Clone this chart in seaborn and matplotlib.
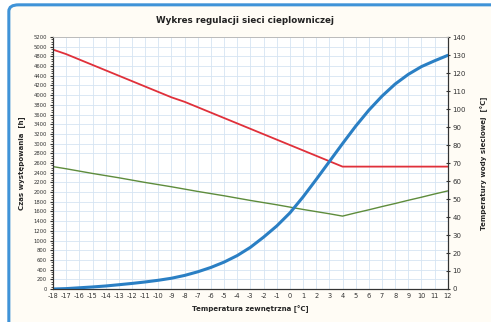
import numpy as np
import pandas as pd
import seaborn as sns
import matplotlib.pyplot as plt
from matplotlib.patches import FancyBboxPatch
from matplotlib.ticker import MultipleLocator

# temperatura zewnętrzna [°C]
temp_zew = list(range(-18, 13))

# czas występowania [h] (lewa oś)
czas_h = [0, 8, 25, 42, 62, 88, 115, 145, 180, 222, 280, 355, 445, 555, 690, 860,
          1070, 1300, 1570, 1900, 2260, 2630, 3000, 3360, 3690, 3980, 4230, 4430,
          4590, 4710, 4822]

# temperatura wody zasilającej [°C] (prawa oś)
t_zasilanie = [133, 130.5, 127.5, 124.5, 121.5, 118.5, 115.5, 112.5, 109.5, 106.5,
               104, 101, 98, 95, 92, 89, 86, 83, 80, 77, 74, 71, 68,
               68, 68, 68, 68, 68, 68, 68, 68]

# temperatura wody powrotnej [°C] (prawa oś)
t_powrot = [68, 66.8, 65.5, 64.2, 63, 61.8, 60.5, 59.2, 58, 56.8, 55.5, 54.2,
            53, 51.8, 50.5, 49.2, 48, 46.8, 45.5, 44.2, 43, 41.8, 40.5,
            42.3, 44, 45.8, 47.5, 49.3, 51, 52.8, 54.5]

df = pd.DataFrame({'t': temp_zew, 'czas': czas_h,
                   'zas': t_zasilanie, 'pow': t_powrot})

sns.set_style('white')
plt.rcParams['font.family'] = ['DejaVu Sans']
plt.rcParams['axes.unicode_minus'] = False

fig = plt.figure(figsize=(4.91, 3.22), dpi=100)
fig.patch.set_facecolor('white')

# ramka w tle
ramka = FancyBboxPatch((0.018, -0.05), 1.05, 1.035,
                       boxstyle='round,pad=0,rounding_size=0.02',
                       transform=fig.transFigure, facecolor='#fffcf5',
                       edgecolor='#3f93d8', linewidth=2.2, zorder=0)
fig.patches.append(ramka)

ax = fig.add_axes([0.108, 0.1025, 0.804, 0.7825])
ax2 = ax.twinx()

# prawa oś pod spodem (biała, z siatką), lewa na wierzchu (przezroczysta)
ax2.set_zorder(1)
ax.set_zorder(2)
ax.patch.set_visible(False)
ax2.patch.set_visible(True)
ax2.patch.set_facecolor('white')

sns.lineplot(data=df, x='t', y='zas', ax=ax2, color='#e0303a', linewidth=1.3)
sns.lineplot(data=df, x='t', y='pow', ax=ax2, color='#5e8c3c', linewidth=1.0)
sns.lineplot(data=df, x='t', y='czas', ax=ax, color='#2a7fc4', linewidth=2.2)

ax.set_xlim(-18, 12)
ax.set_ylim(0, 5200)
ax2.set_ylim(0, 140)

ax.set_xticks(temp_zew)
ax.set_yticks(np.arange(0, 5201, 200))
ax.yaxis.set_minor_locator(MultipleLocator(50))
ax2.set_yticks(np.arange(0, 141, 10))
# siatka pozioma co 200 h, rysowana na osi tła
ax2.yaxis.set_minor_locator(MultipleLocator(140 / 26))

# oś x tła musi być widoczna, żeby rysować pionową siatkę
ax2.xaxis.set_visible(True)
ax2.tick_params(axis='x', labelbottom=False, labeltop=False, length=0)
ax2.set_xlabel('')

ax2.grid(True, axis='x', which='major', color='#d6e4f2', linewidth=0.6)
ax2.grid(True, axis='y', which='minor', color='#d6e4f2', linewidth=0.6)
ax2.set_axisbelow(True)
ax.grid(False)

ax.tick_params(axis='x', labelsize=4.8, length=0, pad=3, colors='#333333')
ax.tick_params(axis='y', which='major', labelsize=3.8, length=2.5, pad=2,
               colors='#333333', direction='out')
ax.tick_params(axis='y', which='minor', length=1.5, color='#333333')
ax2.tick_params(axis='y', which='major', labelsize=5, length=3, pad=2,
                colors='#333333', direction='inout')
ax2.tick_params(axis='y', which='minor', length=0)

for a in (ax, ax2):
    a.spines['top'].set_color('#bbbbbb')
    a.spines['top'].set_linewidth(0.6)
    for s in ('left', 'right', 'bottom'):
        a.spines[s].set_color('#333333')
        a.spines[s].set_linewidth(0.8)

ax.set_xlabel('Temperatura zewnętrzna [°C]', fontsize=5, fontweight='bold',
              labelpad=4)
ax.set_ylabel('Czas występowania  [h]', fontsize=5, fontweight='bold', labelpad=6)
ax2.set_ylabel('Temperatury wody sieciowej  [°C]', fontsize=5, fontweight='bold',
               rotation=90, labelpad=10)

fig.text(0.5, 0.935, 'Wykres regulacji sieci cieplowniczej', ha='center',
         va='center', fontsize=6.3, fontweight='bold', color='#222222')

fig.savefig('out.png', dpi=100)
